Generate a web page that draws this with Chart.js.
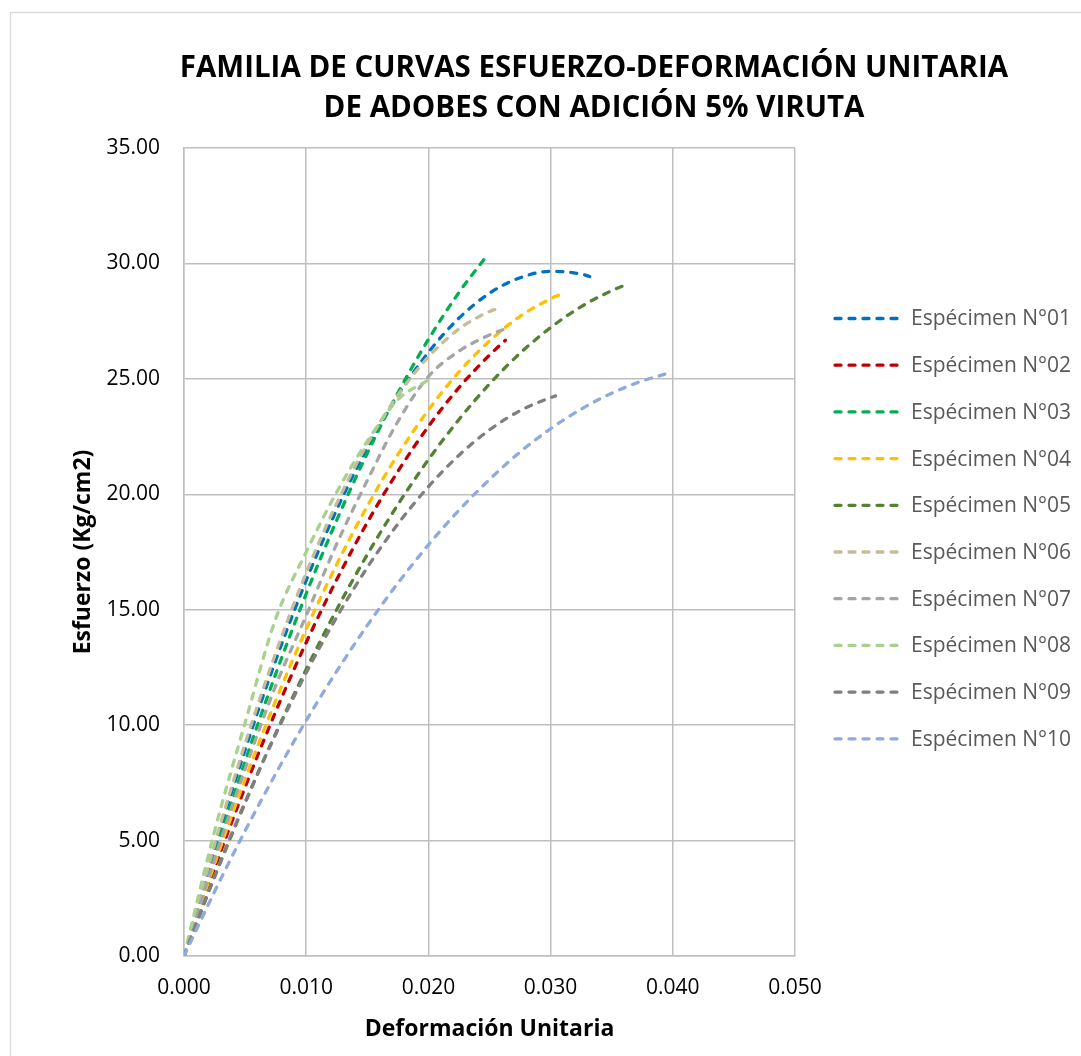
<!DOCTYPE html>
<html lang="es">
<head>
<meta charset="utf-8">
<title>Familia de curvas esfuerzo-deformación unitaria</title>
<script src="https://cdn.jsdelivr.net/npm/chart.js@4.4.1/dist/chart.umd.min.js"></script>
<style>
  html, body { margin: 0; padding: 0; background: #ffffff; }
  #wrap { width: 1081px; height: 1056px; }
</style>
</head>
<body>
<div id="wrap"><canvas id="chart" width="1081" height="1056"></canvas></div>
<script>
// Strain grid shared by all specimens; every series is sampled on it up to
// its last grid point and closes with its own final strain.
const strainGrid = [0, 0.0025, 0.005, 0.0075, 0.01, 0.0125, 0.015, 0.0175,
                    0.02, 0.0225, 0.025, 0.0275, 0.03, 0.0325, 0.035, 0.0375];

const specimenNames = ['Espécimen N°01', 'Espécimen N°02', 'Espécimen N°03', 'Espécimen N°04',
                       'Espécimen N°05', 'Espécimen N°06', 'Espécimen N°07', 'Espécimen N°08',
                       'Espécimen N°09', 'Espécimen N°10'];

const finalStrain = [0.0332, 0.0263, 0.0248, 0.0307, 0.0359, 0.0256, 0.0263, 0.0200, 0.0304, 0.0394];

// Stress (Kg/cm2): grid values, last entry taken at the final strain
const stress01 = [0, 4.66, 8.93, 12.80, 16.27, 19.34, 22.01, 24.28, 26.15, 27.63, 28.71, 29.38, 29.66, 29.54, 29.43];
const stress02 = [0, 3.79, 7.31, 10.58, 13.58, 16.31, 18.78, 20.99, 22.94, 24.62, 26.03, 26.67];
const stress03 = [0, 4.36, 8.43, 12.21, 15.69, 18.88, 21.78, 24.39, 26.71, 28.74, 30.34];
const stress04 = [0, 3.98, 7.66, 11.06, 14.16, 16.97, 19.49, 21.72, 23.65, 25.30, 26.64, 27.71, 28.47, 28.64];
const stress05 = [0, 3.42, 6.63, 9.64, 12.42, 15.01, 17.39, 19.55, 21.50, 23.24, 24.78, 26.11, 27.22, 28.13, 28.82, 29.02];
const stress06 = [0, 4.83, 9.20, 13.12, 16.60, 19.61, 22.18, 24.29, 25.95, 27.16, 27.92, 28.03];
const stress07 = [0, 4.20, 8.10, 11.70, 14.75, 17.85, 20.60, 23.15, 25.10, 26.20, 26.90, 27.17];
const stress08 = [0, 5.40, 10.10, 14.60, 17.50, 20.10, 22.30, 24.10, 24.95];
const stress09 = [0, 3.46, 6.66, 9.60, 12.27, 14.68, 16.83, 18.71, 20.33, 21.69, 22.79, 23.62, 24.19, 24.26];
const stress10 = [0, 2.79, 5.42, 7.89, 10.20, 12.34, 14.32, 16.15, 17.81, 19.31, 20.64, 21.83, 22.84, 23.69, 24.38, 24.91, 25.21];

const stressSeries = [stress01, stress02, stress03, stress04, stress05,
                      stress06, stress07, stress08, stress09, stress10];

const xTickLabels = ['0.000', '0.010', '0.020', '0.030', '0.040', '0.050'];
const yTickLabels = ['0.00', '5.00', '10.00', '15.00', '20.00', '25.00', '30.00', '35.00'];

const lineColors = ['#0070C0', '#C00000', '#00B050', '#FFC000', '#548235',
                    '#C4BD97', '#A5A5A5', '#A9D18E', '#7F7F7F', '#8FAADC'];

const DASH = [6, 8];
const LINE_W = 3.3;

function toPoints(values, endStrain) {
  return values.map((v, i) => ({
    x: i < values.length - 1 ? strainGrid[i] : endStrain,
    y: v
  }));
}

const datasets = stressSeries.map((values, i) => ({
  label: specimenNames[i],
  data: toPoints(values, finalStrain[i]),
  borderColor: lineColors[i],
  backgroundColor: lineColors[i],
  borderWidth: LINE_W,
  borderDash: DASH,
  borderCapStyle: 'round',
  pointRadius: 0,
  pointHoverRadius: 0,
  fill: false,
  showLine: true,
  cubicInterpolationMode: 'monotone',
  order: stressSeries.length - i
}));

const GRID = '#BFBFBF';
const FONT = "'Open Sans', 'Noto Sans', sans-serif";

// Outer frame, two-line heading and the side key
const decorations = {
  id: 'decorations',
  beforeDraw(chart) {
    const ctx = chart.ctx;
    ctx.save();
    ctx.fillStyle = '#ffffff';
    ctx.fillRect(0, 0, chart.width, chart.height);
    ctx.strokeStyle = '#D9D9D9';
    ctx.lineWidth = 1.3;
    ctx.strokeRect(10.5, 12.5, chart.width + 20, chart.height + 20);
    ctx.restore();
  },
  afterDraw(chart) {
    const ctx = chart.ctx;
    ctx.save();
    ctx.fillStyle = '#000000';
    ctx.textAlign = 'center';
    ctx.textBaseline = 'alphabetic';
    ctx.font = "bold 29.5px " + FONT;
    ctx.fillText('FAMILIA DE CURVAS ESFUERZO-DEFORMACIÓN UNITARIA', 594, 77);
    ctx.fillText('DE ADOBES CON ADICIÓN 5% VIRUTA', 594, 117);

    // key
    const x0 = 835, x1 = 905, y0 = 318.5, step = 46.7;
    ctx.font = "21px " + FONT;
    ctx.textAlign = 'left';
    ctx.textBaseline = 'middle';
    chart.data.datasets.forEach((ds, i) => {
      const y = y0 + i * step;
      ctx.strokeStyle = ds.borderColor;
      ctx.lineWidth = LINE_W;
      ctx.lineCap = 'round';
      ctx.setLineDash(DASH);
      ctx.beginPath();
      ctx.moveTo(x0, y);
      ctx.lineTo(x1, y);
      ctx.stroke();
      ctx.setLineDash([]);
      ctx.fillStyle = '#595959';
      ctx.fillText(ds.label, 911, y + 1);
    });
    ctx.restore();
  }
};

new Chart(document.getElementById('chart'), {
  type: 'scatter',
  data: { datasets },
  options: {
    responsive: false,
    animation: false,
    events: [],
    layout: { padding: { top: 148, right: 286, left: 0, bottom: 0 } },
    plugins: {
      legend: { display: false },
      title: { display: false },
      tooltip: { enabled: false }
    },
    scales: {
      x: {
        type: 'linear',
        min: 0,
        max: 0.05,
        afterFit(scale) { scale.height = 100; },
        ticks: {
          stepSize: 0.01,
          padding: 19,
          color: '#000000',
          font: { family: FONT, size: 21 },
          callback: (v, i) => xTickLabels[i]
        },
        grid: { color: GRID, lineWidth: 1.5, drawTicks: false },
        border: { color: GRID, width: 1.5 },
        title: {
          display: true,
          text: 'Deformación Unitaria',
          color: '#000000',
          font: { family: FONT, size: 23, weight: 'bold' },
          padding: { top: 0, bottom: 13 }
        }
      },
      y: {
        type: 'linear',
        min: 0,
        max: 35,
        afterFit(scale) { scale.width = 184; },
        ticks: {
          stepSize: 5,
          padding: 24,
          color: '#000000',
          font: { family: FONT, size: 21 },
          callback: (v, i) => yTickLabels[i]
        },
        grid: { color: GRID, lineWidth: 1.5, drawTicks: false },
        border: { color: GRID, width: 1.5 },
        title: {
          display: true,
          text: 'Esfuerzo (Kg/cm2)',
          color: '#000000',
          font: { family: FONT, size: 23, weight: 'bold' },
          padding: { top: 70, bottom: 0 }
        }
      }
    }
  },
  plugins: [decorations]
});
</script>
</body>
</html>
